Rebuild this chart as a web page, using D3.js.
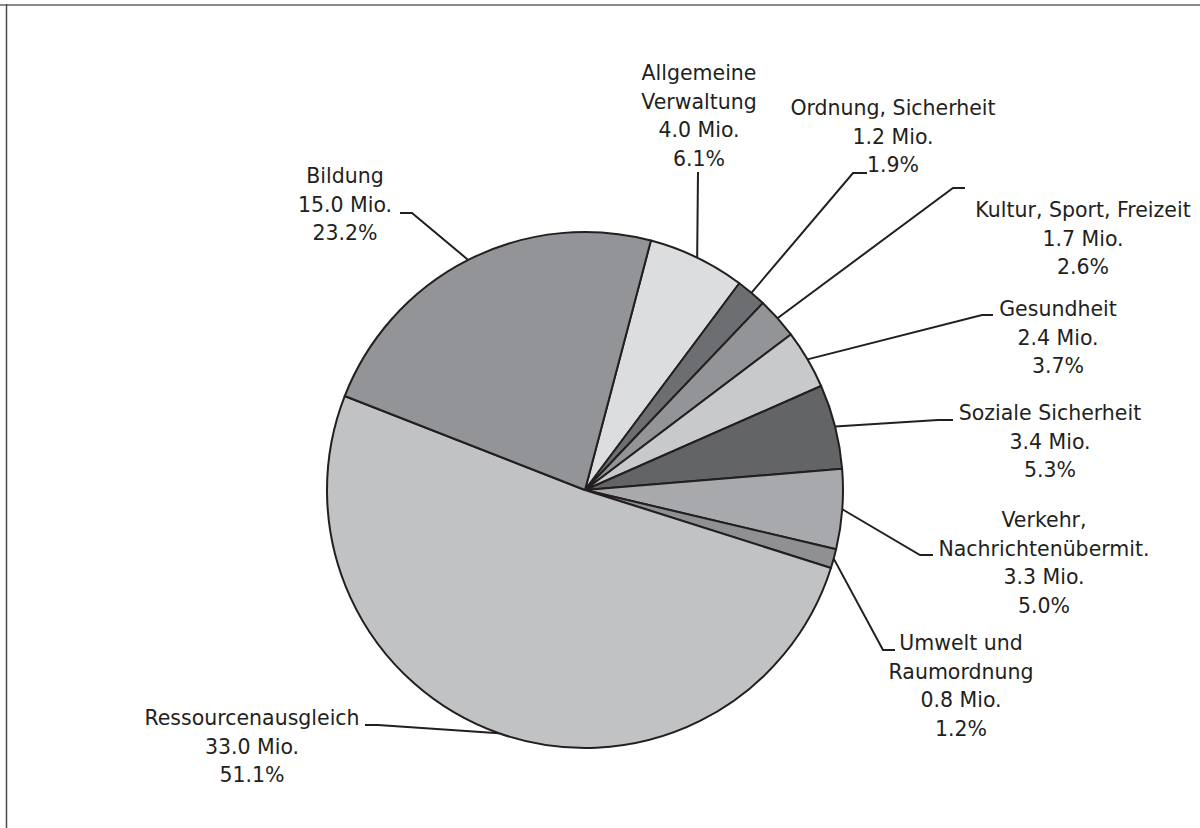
<!DOCTYPE html>
<html>
<head>
<meta charset="utf-8">
<script src="https://cdn.jsdelivr.net/npm/d3@7"></script>
<style>
  html, body { margin: 0; padding: 0; background: #fff; }
  svg { display: block; }
  text { font-family: "DejaVu Sans", sans-serif; fill: #231f20; }
</style>
</head>
<body>
<svg id="chart" width="1200" height="828"></svg>
<script>
// ---- data ----
const categories = [
  "Allgemeine Verwaltung", "Ordnung, Sicherheit", "Kultur, Sport, Freizeit",
  "Gesundheit", "Soziale Sicherheit", "Verkehr, Nachrichtenübermit.",
  "Umwelt und Raumordnung", "Ressourcenausgleich", "Bildung"
];
const labelNames = [
  ["Allgemeine", "Verwaltung"], ["Ordnung, Sicherheit"], ["Kultur, Sport, Freizeit"],
  ["Gesundheit"], ["Soziale Sicherheit"], ["Verkehr,", "Nachrichtenübermit."],
  ["Umwelt und", "Raumordnung"], ["Ressourcenausgleich"], ["Bildung"]
];
const valuesMio = [4.0, 1.2, 1.7, 2.4, 3.4, 3.3, 0.8, 33.0, 15.0];
const valuesPct = [6.1, 1.9, 2.6, 3.7, 5.3, 5.0, 1.2, 51.1, 23.2];

// ---- styles / layout ----
const colors = ["#dcdddf", "#6d6e71", "#939497", "#c8c9cb", "#636466",
                "#a7a9ac", "#8f9093", "#c1c2c4", "#939497"];
// label layout: text centre x, first baseline y, elbow point, end of horizontal stub
const labelLayout = [
  { tx: 699,  ty: 80,  elbow: [698, 172], end: [698, 172] },
  { tx: 893,  ty: 115, elbow: [853, 173], end: [867, 173] },
  { tx: 1083, ty: 217, elbow: [953, 188], end: [965, 188] },
  { tx: 1058, ty: 316, elbow: [982, 315], end: [993, 315] },
  { tx: 1050, ty: 420, elbow: [938, 420], end: [953, 420] },
  { tx: 1044, ty: 527, elbow: [920, 555], end: [933, 555] },
  { tx: 961,  ty: 650, elbow: [883, 650], end: [895, 650] },
  { tx: 252,  ty: 725, elbow: [378, 725], end: [365, 725] },
  { tx: 345,  ty: 183, elbow: [412, 213], end: [400, 213] }
];
const cx = 585, cy = 490, radius = 258;
const startDeg = 14.8;
const lineH = 28.5;
const fontSize = 20.5;

const svg = d3.select("#chart");

// frame
svg.append("line").attr("x1", 0).attr("x2", 1200).attr("y1", 5).attr("y2", 5)
  .attr("stroke", "#8a8a8a").attr("stroke-width", 2);
svg.append("line").attr("x1", 6.5).attr("x2", 6.5).attr("y1", 4).attr("y2", 828)
  .attr("stroke", "#4a4a4a").attr("stroke-width", 1.5);

const data = categories.map((c, i) => ({
  name: c, lines: labelNames[i], mio: valuesMio[i], pct: valuesPct[i],
  color: colors[i], layout: labelLayout[i]
}));

const s0 = startDeg * Math.PI / 180;
const pie = d3.pie().sort(null).value(d => d.pct).startAngle(s0).endAngle(s0 + 2 * Math.PI);
const arcs = pie(data);
const arc = d3.arc().innerRadius(0).outerRadius(radius);

const g = svg.append("g").attr("transform", `translate(${cx},${cy})`);
g.selectAll("path.slice").data(arcs).join("path")
  .attr("class", "slice")
  .attr("d", arc)
  .attr("fill", d => d.data.color)
  .attr("stroke", "#231f20")
  .attr("stroke-width", 2)
  .attr("stroke-linejoin", "round");

// leader lines
const line = d3.line();
svg.selectAll("path.leader").data(arcs).join("path")
  .attr("class", "leader")
  .attr("d", d => {
    const a = (d.startAngle + d.endAngle) / 2;
    const p0 = [cx + radius * Math.sin(a), cy - radius * Math.cos(a)];
    return line([p0, d.data.layout.elbow, d.data.layout.end]);
  })
  .attr("fill", "none")
  .attr("stroke", "#231f20")
  .attr("stroke-width", 2);

// labels
const fmt = d3.format(".1f");
const labels = svg.selectAll("text.lbl").data(arcs).join("text")
  .attr("class", "lbl")
  .attr("text-anchor", "middle")
  .attr("font-size", fontSize)
  .attr("x", d => d.data.layout.tx)
  .attr("y", d => d.data.layout.ty);
labels.each(function(d) {
  const rows = d.data.lines.concat([fmt(d.data.mio) + " Mio.", fmt(d.data.pct) + "%"]);
  d3.select(this).selectAll("tspan").data(rows).join("tspan")
    .attr("x", d.data.layout.tx)
    .attr("dy", (r, i) => i === 0 ? 0 : lineH)
    .text(r => r);
});
</script>
</body>
</html>
